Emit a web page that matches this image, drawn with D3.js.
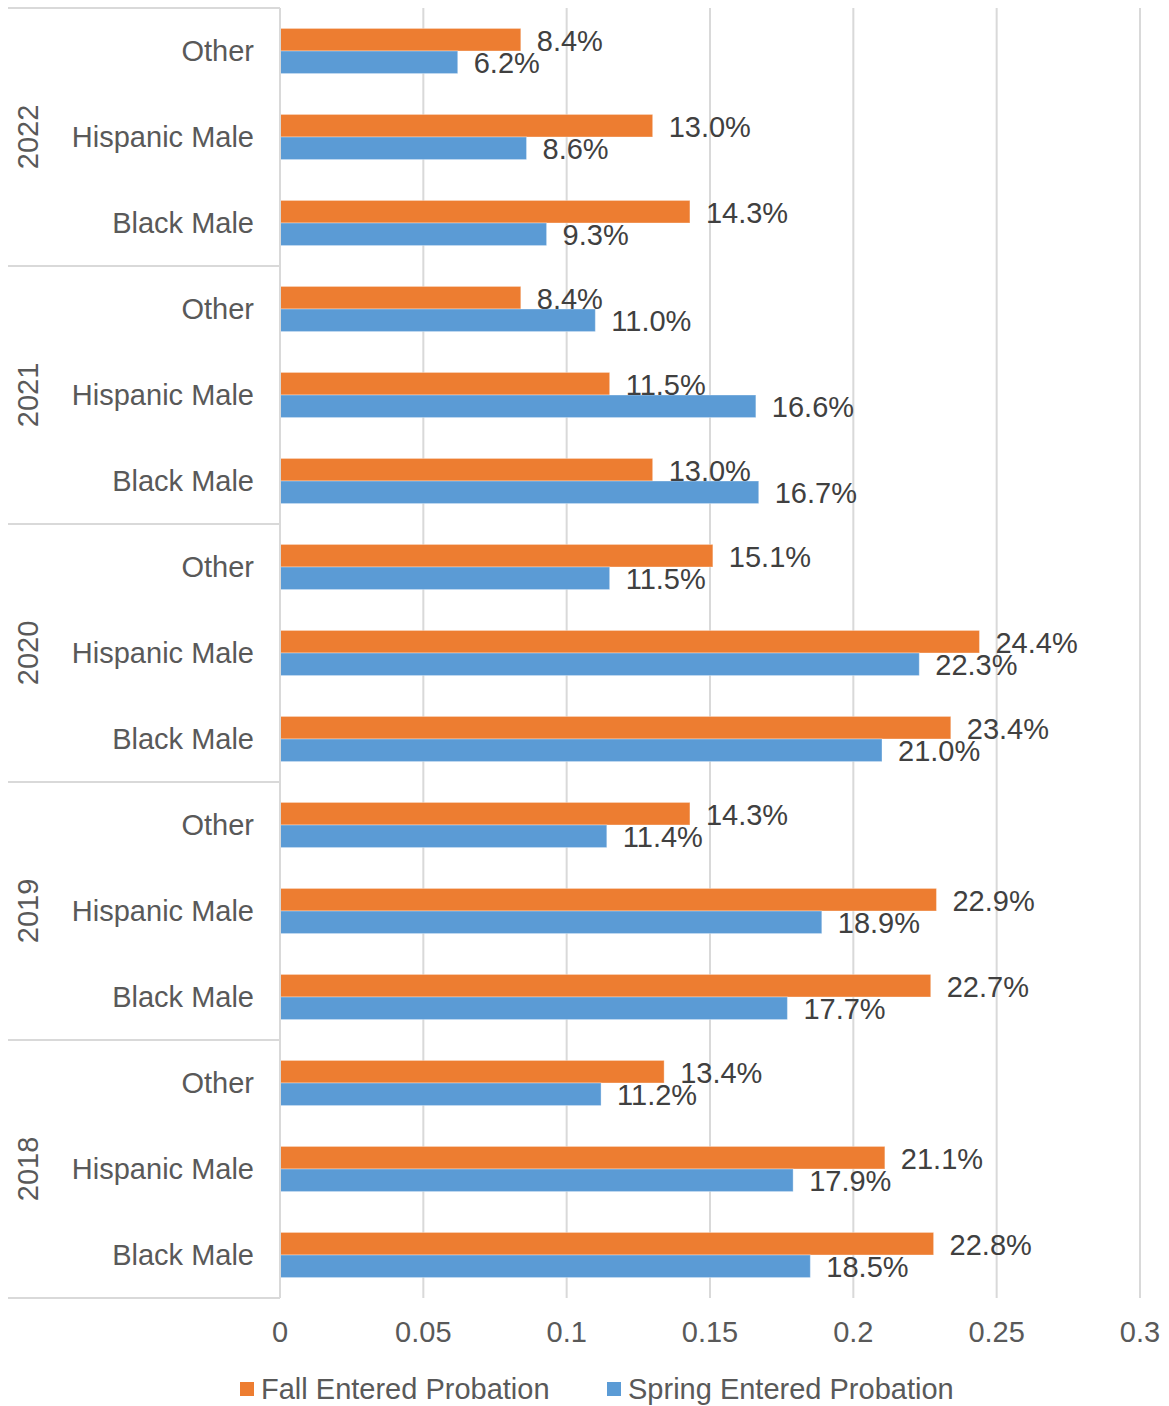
<!DOCTYPE html>
<html><head><meta charset="utf-8">
<script src="https://cdn.jsdelivr.net/npm/d3@7"></script>
<style>body{margin:0;background:#fff}svg{display:block}text{font-family:"Liberation Sans",Arial,sans-serif}</style>
</head><body><svg id="c" width="1169" height="1406"></svg>
<script>
const years = ["2022","2021","2020","2019","2018"];
const groups = ["Other","Hispanic Male","Black Male"];
const fall = [8.4,13.0,14.3, 8.4,11.5,13.0, 15.1,24.4,23.4, 14.3,22.9,22.7, 13.4,21.1,22.8];
const spring = [6.2,8.6,9.3, 11.0,16.6,16.7, 11.5,22.3,21.0, 11.4,18.9,17.7, 11.2,17.9,18.5];
const xTicks = [0,0.05,0.1,0.15,0.2,0.25,0.3];
const seriesNames = ["Fall Entered Probation","Spring Entered Probation"];
const colors = ["#ED7D31","#5B9BD5"];

const svg = d3.select("#c");
const L=280,R=1140,T=8,B=1298;
const FS=29;
const rows = [];
years.forEach((y,i)=>groups.forEach((g,j)=>rows.push({key:y+"|"+g,year:y,cat:g,fall:fall[i*3+j],spring:spring[i*3+j]})));
const x = d3.scaleLinear().domain([0,0.3]).range([L,R]);
const y = d3.scaleBand().domain(rows.map(r=>r.key)).range([T,B]).paddingInner(0.475).paddingOuter(0.2375);
const yi = d3.scaleBand().domain(["fall","spring"]).range([0,y.bandwidth()]);
const grid="#D9D9D9", txt="#595959", lab="#404040";

svg.append("g").selectAll("line").data(xTicks.slice(1)).join("line")
 .attr("x1",d=>x(d)).attr("x2",d=>x(d)).attr("y1",T).attr("y2",B).attr("stroke",grid).attr("stroke-width",2);
const g = svg.append("g");
rows.forEach(r=>{
  ["fall","spring"].forEach((s,k)=>{
    g.append("rect").attr("x",x(0)).attr("y",y(r.key)+yi(s)).attr("width",x(r[s]/100)-x(0)).attr("height",yi.bandwidth())
     .attr("fill",colors[k]).attr("stroke","#fff").attr("stroke-opacity",0.35).attr("stroke-width",1);
  });
});
rows.forEach(r=>{
  ["fall","spring"].forEach((s,k)=>{
    g.append("text").attr("x",x(r[s]/100)+16).attr("y",y(r.key)+yi(s)+yi.bandwidth()/2+1).attr("dy","0.35em")
     .attr("font-size",FS).attr("fill",lab).text(r[s].toFixed(1)+"%");
  });
});
const groupH=(B-T)/years.length;
svg.append("line").attr("x1",L).attr("x2",L).attr("y1",T).attr("y2",B).attr("stroke",grid).attr("stroke-width",2);
d3.range(years.length+1).forEach(i=>{
  svg.append("line").attr("x1",8).attr("x2",L).attr("y1",T+i*groupH).attr("y2",T+i*groupH).attr("stroke",grid).attr("stroke-width",2);
});
rows.forEach(r=>{
  svg.append("text").attr("x",254).attr("y",y(r.key)+y.bandwidth()/2).attr("dy","0.35em").attr("text-anchor","end")
   .attr("font-size",FS).attr("fill",txt).text(r.cat);
});
years.forEach((yr,i)=>{
  const cy=T+i*groupH+groupH/2;
  svg.append("text").attr("transform",`translate(28,${cy}) rotate(-90)`).attr("text-anchor","middle").attr("dy","0.35em")
   .attr("font-size",FS).attr("fill",txt).text(yr);
});
svg.append("g").selectAll("text").data(xTicks).join("text").attr("x",d=>x(d)).attr("y",1332).attr("dy","0.35em")
 .attr("text-anchor","middle").attr("font-size",FS).attr("fill",txt).text(d=>d3.format("")(d));
const lx=[240,607];
seriesNames.forEach((n,k)=>{
  svg.append("rect").attr("x",lx[k]).attr("y",1382).attr("width",14).attr("height",14).attr("fill",colors[k]);
  svg.append("text").attr("x",lx[k]+21).attr("y",1389).attr("dy","0.35em").attr("font-size",FS).attr("fill",txt).text(n);
});
</script></body></html>
